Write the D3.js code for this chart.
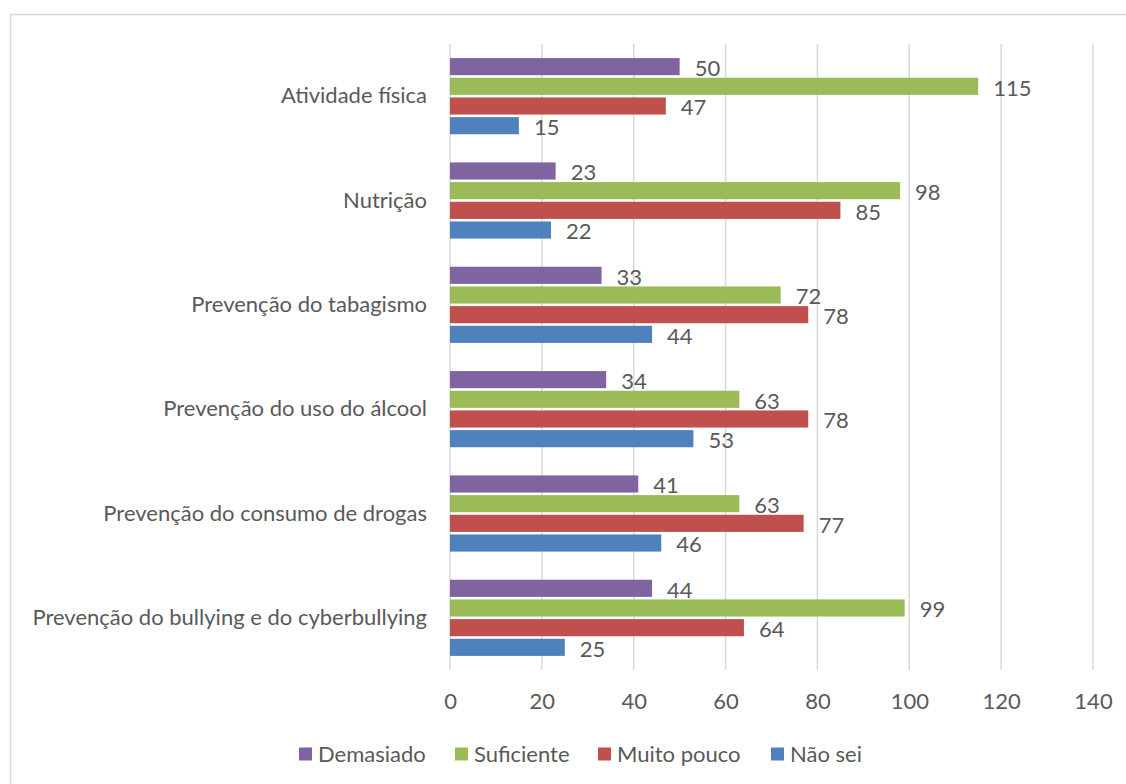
<!DOCTYPE html>
<html>
<head>
<meta charset="utf-8">
<script src="https://cdn.jsdelivr.net/npm/d3@7/dist/d3.min.js"></script>
<style>
  html, body { margin: 0; padding: 0; background: #fff; }
  svg { display: block; }
  text { font-family: Lato, "Open Sans", sans-serif; fill: #595959; }
</style>
</head>
<body>
<svg id="chart" width="1126" height="784"></svg>
<script>
// Topics asked about, top to bottom
const categories = [
  "Atividade física",
  "Nutrição",
  "Prevenção do tabagismo",
  "Prevenção do uso do álcool",
  "Prevenção do consumo de drogas",
  "Prevenção do bullying e do cyberbullying"
];

// Answer series, drawn top to bottom within each topic
const seriesNames = ["Demasiado", "Suficiente", "Muito pouco", "Não sei"];
const seriesColors = ["#8064A2", "#9BBB59", "#C0504D", "#4F81BD"];

const demasiado  = [50, 23, 33, 34, 41, 44];
const suficiente = [115, 98, 72, 63, 63, 99];
const muitoPouco = [47, 85, 78, 78, 77, 64];
const naoSei     = [15, 22, 44, 53, 46, 25];

const xTicks = [0, 20, 40, 60, 80, 100, 120, 140];

const seriesValues = [demasiado, suficiente, muitoPouco, naoSei];

const FONT = 22;
const svg = d3.select("#chart");

// Outer chart frame
svg.append("rect")
  .attr("x", 10.5).attr("y", 14.5)
  .attr("width", 1140).attr("height", 800)
  .attr("fill", "none")
  .attr("stroke", "#D9D9D9")
  .attr("stroke-width", 1.5);

const plot = { left: 450, right: 1093, top: 44, bottom: 670 };

const x = d3.scaleLinear().domain([0, 140]).range([plot.left, plot.right]);
const y = d3.scaleBand().domain(categories).range([plot.top, plot.bottom]).paddingInner(0.27).paddingOuter(0.135);
const ySeries = d3.scaleBand().domain(seriesNames).range([0, y.bandwidth()]).paddingInner(0.13).paddingOuter(0);

// Vertical gridlines
svg.append("g")
  .selectAll("line")
  .data(xTicks)
  .join("line")
  .attr("x1", d => x(d)).attr("x2", d => x(d))
  .attr("y1", plot.top).attr("y2", plot.bottom)
  .attr("stroke", "#D9D9D9")
  .attr("stroke-width", 1.5);

// X axis tick labels
const xAxis = d3.axisBottom(x).tickValues(xTicks).tickSize(0).tickPadding(0);
const gx = svg.append("g")
  .attr("transform", `translate(0,${plot.bottom + 31})`)
  .call(xAxis);
gx.select(".domain").remove();
gx.selectAll("text")
  .attr("font-size", FONT)
  .attr("y", 0)
  .attr("dy", "0.36em")
  .style("font-family", "Lato, 'Open Sans', sans-serif")
  .attr("fill", "#595959");

// Category labels
const yAxis = d3.axisLeft(y).tickSize(0).tickPadding(23);
const gy = svg.append("g")
  .attr("transform", `translate(${plot.left},0)`)
  .call(yAxis);
gy.select(".domain").remove();
gy.selectAll("text")
  .attr("font-size", FONT)
  .style("font-family", "Lato, 'Open Sans', sans-serif")
  .attr("fill", "#595959");

// Bars and value labels
const rows = [];
categories.forEach((c, i) => {
  seriesNames.forEach((s, j) => {
    rows.push({ category: c, series: s, value: seriesValues[j][i], color: seriesColors[j] });
  });
});

const bars = svg.append("g");
bars.selectAll("rect")
  .data(rows)
  .join("rect")
  .attr("x", x(0))
  .attr("y", d => y(d.category) + ySeries(d.series))
  .attr("width", d => x(d.value) - x(0))
  .attr("height", ySeries.bandwidth())
  .attr("fill", d => d.color);

bars.selectAll("text")
  .data(rows)
  .join("text")
  .attr("x", d => x(d.value) + 15)
  .attr("y", d => y(d.category) + ySeries(d.series) + ySeries.bandwidth() / 2 + 1.5)
  .attr("dy", "0.35em")
  .attr("font-size", FONT)
  .text(d => d.value);

// Legend
const legendX = [299, 455, 598, 771];
const legend = svg.append("g");
seriesNames.forEach((s, j) => {
  legend.append("rect")
    .attr("x", legendX[j]).attr("y", 747.5)
    .attr("width", 13).attr("height", 13)
    .attr("fill", seriesColors[j]);
  legend.append("text")
    .attr("x", legendX[j] + 19).attr("y", 754.5)
    .attr("dy", "0.35em")
    .attr("font-size", FONT)
    .text(s);
});
</script>
</body>
</html>
